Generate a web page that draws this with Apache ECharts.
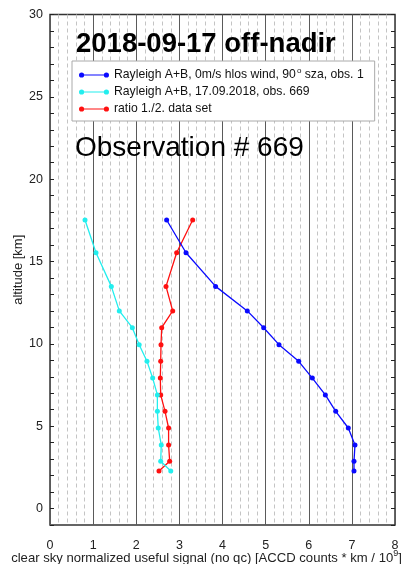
<!DOCTYPE html>
<html>
<head>
<meta charset="utf-8">
<script src="https://cdn.jsdelivr.net/npm/echarts@6/dist/echarts.min.js"></script>
<style>
  html, body { margin: 0; padding: 0; background: #fff; }
  #chart { width: 407px; height: 564px; }
</style>
</head>
<body>
<div id="chart"></div>
<script>
// Altitude bins [km] shared by all three profiles
const altitudes = [17.52, 15.53, 13.49, 12.0, 10.98, 9.95, 8.94, 7.92, 6.9, 5.9, 4.89, 3.86, 2.87, 2.28];

// Reference profile: 0 m/s hlos wind, 90 deg sza, obs. 1
const refSignal = [2.705, 3.154, 3.84, 4.575, 4.955, 5.31, 5.767, 6.083, 6.385, 6.625, 6.917, 7.072, 7.049, 7.049];
// Measured profile 17.09.2018, obs. 669
const obsSignal = [0.812, 1.067, 1.422, 1.607, 1.909, 2.068, 2.249, 2.381, 2.49, 2.49, 2.51, 2.58, 2.567, 2.8];
// Ratio of data set 1 to data set 2
const ratioSignal = [3.308, 2.937, 2.69, 2.845, 2.59, 2.574, 2.567, 2.558, 2.567, 2.667, 2.75, 2.75, 2.775, 2.527];

const xTicks = [0, 1, 2, 3, 4, 5, 6, 7, 8];
const yTickLabels = [0, 5, 10, 15, 20, 25, 30];

const seriesNames = [
  'Rayleigh A+B, 0m/s hlos wind, 90° sza, obs. 1',
  'Rayleigh A+B, 17.09.2018, obs. 669',
  'ratio 1./2. data set'
];
const seriesColors = ['#0a0aff', '#22eeee', '#ff1010'];
const seriesValues = [refSignal, obsSignal, ratioSignal];

const FONT = '"Liberation Sans", Arial, sans-serif';

// Legend key: a short line with a dot at each end
const legendIcon = 'path://M3,3.4 L27,3.4 L27,4.6 L3,4.6 Z ' +
  'M0.5,4 A2.5,2.5 0 1,1 5.5,4 A2.5,2.5 0 1,1 0.5,4 Z ' +
  'M24.5,4 A2.5,2.5 0 1,1 29.5,4 A2.5,2.5 0 1,1 24.5,4 Z';

const chart = echarts.init(document.getElementById('chart'), null, { renderer: 'canvas' });

const series = seriesNames.map((name, i) => ({
  name: name,
  type: 'line',
  data: seriesValues[i].map((v, k) => [v, altitudes[k]]),
  symbol: 'circle',
  symbolSize: 5,
  lineStyle: { color: seriesColors[i], width: 1.3 },
  itemStyle: { color: seriesColors[i] },
  z: 3 - i + 2,
  animation: false
}));

const yAxisCommon = {
  type: 'value',
  min: -1,
  max: 30,
  interval: 1,
  axisLine: { show: false },
  splitLine: { show: false },
  axisTick: { show: true, inside: true, length: 4, lineStyle: { color: '#222', width: 1 } }
};

chart.setOption({
  animation: false,
  textStyle: { fontFamily: FONT },
  title: [
    {
      text: '2018-09-17 off-nadir',
      left: 76, top: 30,
      textStyle: { fontFamily: FONT, fontSize: 27.5, fontWeight: 'bold', color: '#000' },
      padding: 0
    },
    {
      text: 'Observation # 669',
      left: 75, top: 134,
      textStyle: { fontFamily: FONT, fontSize: 28, fontWeight: 'normal', color: '#000' },
      padding: 0
    }
  ],
  legend: {
    data: seriesNames.map((name, i) => ({
      name: name,
      icon: legendIcon,
      itemStyle: { color: seriesColors[i], borderWidth: 0, opacity: 1 }
    })),
    orient: 'vertical',
    left: 72,
    top: 61,
    padding: [6, 11, 6, 7],
    itemGap: 5,
    itemWidth: 30,
    itemHeight: 8,
    backgroundColor: '#fff',
    borderColor: '#aaa',
    borderWidth: 1,
    borderRadius: 0,
    selectedMode: false,
    formatter: function (name) {
      if (name.indexOf('°') >= 0) {
        const parts = name.split('°');
        return '{n|' + parts[0] + '}{sup|o}{n|' + parts[1] + '}';
      }
      return '{n|' + name + '}';
    },
    textStyle: {
      fontFamily: FONT,
      fontSize: 12,
      color: '#111',
      rich: {
        n: { fontFamily: FONT, fontSize: 12.2, color: '#111', lineHeight: 12 },
        sup: { fontFamily: FONT, fontSize: 8, color: '#111', verticalAlign: 'bottom', padding: [0, 0, 6, 1], lineHeight: 12 }
      }
    }
  },
  grid: {
    left: 50,
    right: 12,
    top: 14.5,
    bottom: 39,
    show: true,
    borderColor: '#333',
    borderWidth: 1.5,
    backgroundColor: 'transparent',
    containLabel: false,
    outerBoundsMode: 'none'
  },
  xAxis: {
    type: 'value',
    min: xTicks[0],
    max: xTicks[xTicks.length - 1],
    interval: 1,
    axisLine: { show: false },
    axisTick: { show: false },
    axisLabel: { fontFamily: FONT, fontSize: 12.5, color: '#222', margin: 14 },
    splitLine: { show: true, lineStyle: { color: '#5a5a5a', width: 1 } },
    minorTick: { show: false, splitNumber: 5 },
    minorSplitLine: { show: true, lineStyle: { color: '#c4c4c4', width: 1, type: [4, 3] } },
    name: '{n|clear sky normalized useful signal (no qc) [ACCD counts * km / 10}{sup|9}{n|]}',
    nameLocation: 'middle',
    nameMoveOverlap: false,
    nameGap: 26,
    nameTextStyle: {
      padding: [0, 32, 0, 0],
      rich: {
        n: { fontFamily: FONT, fontSize: 13.1, color: '#222', lineHeight: 14 },
        sup: { fontFamily: FONT, fontSize: 9, color: '#222', verticalAlign: 'bottom', padding: [0, 0, 7, 0], lineHeight: 14 }
      }
    }
  },
  yAxis: [
    Object.assign({}, yAxisCommon, {
      position: 'left',
      axisLabel: {
        show: true,
        interval: 0,
        fontFamily: FONT, fontSize: 12.5, color: '#222', margin: 7,
        formatter: v => (yTickLabels.indexOf(v) >= 0 ? String(v) : '')
      },
      name: 'altitude [km]',
      nameLocation: 'middle',
      nameMoveOverlap: false,
      nameRotate: 90,
      nameGap: 25,
      nameTextStyle: { fontFamily: FONT, fontSize: 13, color: '#222' }
    }),
    Object.assign({}, yAxisCommon, {
      position: 'right',
      axisLabel: { show: false }
    })
  ],
  series: series
});
</script>
</body>
</html>
